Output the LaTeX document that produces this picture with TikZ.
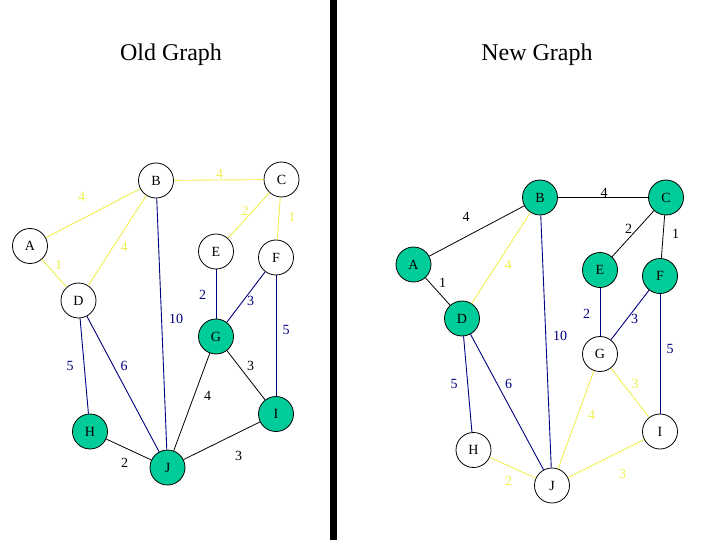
\documentclass[tikz,border=0pt]{standalone}
\usepackage{fontspec}
\setmainfont{Liberation Serif}
\definecolor{teal1}{RGB}{0,204,153}
\definecolor{yel}{RGB}{240,240,80}
\definecolor{nav}{RGB}{0,0,128}
\tikzset{
  vtx/.style={circle,draw=black,line width=0.8pt,minimum size=35pt,inner sep=0pt,font=\fontsize{14}{16}\selectfont},
  wv/.style={vtx,fill=white},
  tv/.style={vtx,fill=teal1},
  lbl/.style={inner sep=0pt,font=\fontsize{14}{16}\selectfont},
  ey/.style={draw=yel,line width=0.9pt},
  en/.style={draw=nav,line width=0.9pt},
  ek/.style={draw=black,line width=0.8pt},
  ly/.style={lbl,text=yel},
  ln/.style={lbl,text=nav},
  lk/.style={lbl,text=black},
  title/.style={inner sep=0pt,font=\fontsize{24}{28}\selectfont}
}
\begin{document}
\begin{tikzpicture}[x=1pt,y=-1pt]
\useasboundingbox (0,0) rectangle (720,540);
\fill[white] (0,0) rectangle (720,540);
\fill[black] (329.5,0) rectangle (336.5,540);
\node[title] (t1) at (171,55) {Old Graph};
\node[title] (t2) at (537,55) {New Graph};
% ---------- Old graph ----------
\node[wv] (A) at (30,246) {A};
\node[wv] (B) at (156,180.5) {B};
\node[wv] (C) at (281.5,179.5) {C};
\node[wv] (D) at (78.5,300.5) {D};
\node[wv] (E) at (216,251.5) {E};
\node[wv] (F) at (276,257.5) {F};
\node[tv] (G) at (216,336.5) {G};
\node[tv] (H) at (90,431.5) {H};
\node[tv] (I) at (276,414) {I};
\node[tv] (J) at (167.5,467.5) {J};
\draw[ey] (A) -- (B);
\draw[ey] (B) -- (C);
\draw[ey] (C) -- (E);
\draw[ey] (C) -- (F);
\draw[ey] (B) -- (D);
\draw[ey] (A) -- (D);
\draw[en] (B) -- (J);
\draw[en] (E) -- (G);
\draw[en] (F) -- (G);
\draw[en] (F) -- (I);
\draw[en] (D) -- (H);
\draw[en] (D) -- (J);
\draw[ek] (G) -- (J);
\draw[ek] (G) -- (I);
\draw[ek] (H) -- (J);
\draw[ek] (J) -- (I);
\node[ly] (lAB) at (81.5,197) {4};
\node[ly] (lBC) at (219.5,174) {4};
\node[ly] (lCE) at (245,211) {2};
\node[ly] (lCF) at (292,216.5) {1};
\node[ly] (lBD) at (124,246.5) {4};
\node[ly] (lAD) at (58.5,265) {1};
\node[ln] (lBJ) at (176,318.5) {10};
\node[ln] (lEG) at (202.5,295) {2};
\node[ln] (lFG) at (250.5,300.5) {3};
\node[ln] (lFI) at (286,330) {5};
\node[ln] (lDH) at (70,366) {5};
\node[ln] (lDJ) at (124,366) {6};
\node[lk] (lGJ) at (207.5,396) {4};
\node[lk] (lGI) at (250.5,366) {3};
\node[lk] (lHJ) at (124.5,462.5) {2};
\node[lk] (lJI) at (238.5,456) {3};
% ---------- New graph ----------
\node[tv] (A2) at (413.5,264.5) {A};
\node[tv] (B2) at (540,197.5) {B};
\node[tv] (C2) at (666,197.5) {C};
\node[tv] (D2) at (462,318.5) {D};
\node[tv] (E2) at (600,270) {E};
\node[tv] (F2) at (660,276) {F};
\node[wv] (G2) at (600,354) {G};
\node[wv] (H2) at (473.5,450) {H};
\node[wv] (I2) at (660,431.5) {I};
\node[wv] (J2) at (552,485.5) {J};
\draw[ek] (A2) -- (B2);
\draw[ek] (B2) -- (C2);
\draw[ek] (C2) -- (E2);
\draw[ek] (C2) -- (F2);
\draw[ey] (B2) -- (D2);
\draw[ek] (A2) -- (D2);
\draw[en] (B2) -- (J2);
\draw[en] (E2) -- (G2);
\draw[en] (F2) -- (G2);
\draw[en] (F2) -- (I2);
\draw[en] (D2) -- (H2);
\draw[en] (D2) -- (J2);
\draw[ey] (G2) -- (J2);
\draw[ey] (G2) -- (I2);
\draw[ey] (H2) -- (J2);
\draw[ey] (J2) -- (I2);
\node[lk] (mAB) at (466,216.5) {4};
\node[lk] (mBC) at (604,192.5) {4};
\node[lk] (mCE) at (628.5,229) {2};
\node[lk] (mCF) at (675.5,234) {1};
\node[ly] (mBD) at (508,264.5) {4};
\node[lk] (mAD) at (442.5,282.5) {1};
\node[ln] (mBJ) at (560,336) {10};
\node[ln] (mEG) at (586.5,313.5) {2};
\node[ln] (mFG) at (634.5,318.5) {3};
\node[ln] (mFI) at (670,348.5) {5};
\node[ln] (mDH) at (454,383.5) {5};
\node[ln] (mDJ) at (508.5,383.5) {6};
\node[ly] (mGJ) at (591.5,415) {4};
\node[ly] (mGI) at (635,383.5) {3};
\node[ly] (mHJ) at (508.5,480.5) {2};
\node[ly] (mJI) at (622.5,474) {3};
\end{tikzpicture}
\end{document}
